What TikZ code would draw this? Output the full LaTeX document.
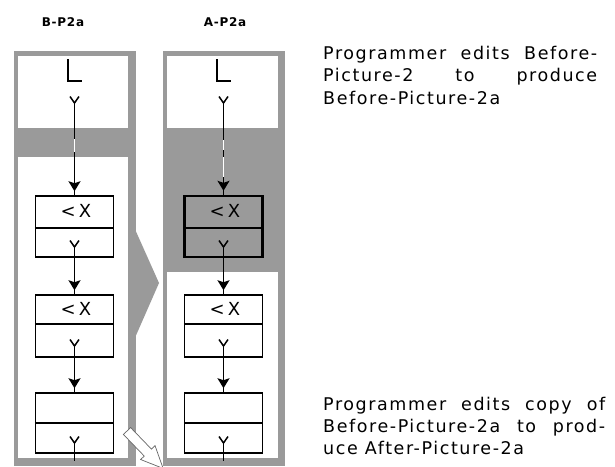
\documentclass[tikz,border=0pt]{standalone}
\usepackage{fontspec}
\setmainfont{DejaVu Sans}
\newfontfamily\bodyfont[LetterSpace=9]{DejaVu Sans}
\newfontfamily\labfont[LetterSpace=6]{DejaVu Sans}
\newfontfamily\cmpfont[LetterSpace=18]{DejaVu Sans}
\usetikzlibrary{arrows.meta,decorations.markings}
\definecolor{pg}{HTML}{9A9A9A}
\begin{document}
\begin{tikzpicture}[x=1pt,y=-1pt,
  conn/.style={line width=1.5pt, postaction={decorate},
    decoration={markings, mark=at position -4pt with {\arrow{Stealth[length=10pt,width=12pt,inset=2pt,fill=black]}}}},
  forkst/.style={line width=1.5pt},
  boxst/.style={draw, line width=1.5pt, fill=white, minimum width=78pt, inner sep=0pt},
  hotbox/.style={boxst, fill=pg, line width=2.4pt},
  cmp/.style={font=\cmpfont\fontsize{18}{18}\selectfont, inner sep=0pt},
  bodytxt/.style={font=\bodyfont\fontsize{17.5}{22}\selectfont, inner sep=0pt, anchor=base west},
  labtxt/.style={font=\labfont\bfseries\fontsize{12}{12}\selectfont, inner sep=0pt}
]
\useasboundingbox (0,0) rectangle (615,466);
\fill[white] (0,0) rectangle (615,466);

% panels
\fill[pg] (14,51) rectangle (136,466);
\fill[pg] (163,51) rectangle (285,466);
\fill[white] (18,56) rectangle (128,128);
\fill[white] (18,157) rectangle (128,458);
\fill[white] (167,56) rectangle (278,128);
\fill[white] (167,272) rectangle (278,458);
% chevron
\fill[pg] (134,227) -- (159,283) -- (134,340) -- cycle;

% labels
\node[labtxt] (lbB) at (63,22) {B-P2a};
\node[labtxt] (lbA) at (225,22) {A-P2a};

% columns
\foreach \cx/\nm in {74.5/L, 223.5/R} {
  % L symbol
  \draw[line width=1.4pt] (\cx-6.5,59) -- (\cx-6.5,81) -- (\cx+7.5,81);
  \coordinate (\nm f1) at (\cx,103);
  \coordinate (\nm f2) at (\cx,247);
  \coordinate (\nm f3) at (\cx,346);
  \coordinate (\nm f4) at (\cx,443);
  \coordinate (\nm end) at (\cx,461);
}
% boxes left
\node[boxst, minimum height=61pt] (Lb1) at (74.5,226.5) {};
\node[boxst, minimum height=62pt] (Lb2) at (74.5,326) {};
\node[boxst, minimum height=60pt] (Lb3) at (74.5,423) {};
% boxes right
\node[hotbox, minimum height=61pt] (Rb1) at (223.5,226.5) {};
\node[boxst, minimum height=62pt] (Rb2) at (223.5,326) {};
\node[boxst, minimum height=60pt] (Rb3) at (223.5,423) {};

% dividers
\draw[line width=1.5pt] (Lb1.west |- 0,228) -- (Lb1.east |- 0,228);
\draw[line width=1.5pt] (Lb2.west |- 0,324) -- (Lb2.east |- 0,324);
\draw[line width=1.5pt] (Lb3.west |- 0,423) -- (Lb3.east |- 0,423);
\draw[line width=2.4pt] (Rb1.west |- 0,228) -- (Rb1.east |- 0,228);
\draw[line width=1.5pt] (Rb2.west |- 0,324) -- (Rb2.east |- 0,324);
\draw[line width=1.5pt] (Rb3.west |- 0,423) -- (Rb3.east |- 0,423);

% texts in boxes
\node[cmp] (Lc1) at (76,211) {<X};
\node[cmp] (Lc2) at (76,309) {<X};
\node[cmp] (Rc1) at (225,211) {<X};
\node[cmp] (Rc2) at (225,309) {<X};

% forks and connectors
\foreach \nm/\cx in {L/74.5, R/223.5} {
  \draw[forkst] (\cx-4.5,96.5) -- (\nm f1) -- (\cx+4.5,96.5);
  \draw[forkst] (\cx-4.5,240.5) -- (\nm f2) -- (\cx+4.5,240.5);
  \draw[forkst] (\cx-4.5,339.5) -- (\nm f3) -- (\cx+4.5,339.5);
  \draw[forkst] (\cx-4.5,436.5) -- (\nm f4) -- (\cx+4.5,436.5);
  \draw[conn] (\nm f1) -- (\nm b1.north);
  \draw[conn] (\nm f2) -- (\nm b2.north);
  \draw[conn] (\nm f3) -- (\nm b3.north);
  \draw[line width=1.5pt] (\nm f4) -- (\nm end);
}
% white breaks on the cut connectors
\draw[white, line width=1.6pt] (74.5,139) -- (74.5,152);
\draw[white, line width=1.6pt] (223.5,140) -- (223.5,150);
\draw[white, line width=1.6pt] (223.5,157) -- (223.5,177);

% hollow arrow
\begin{scope}[shift={(127,431)}, rotate=-46]
  \draw[fill=white, draw=black!60, line width=0.7pt]
    (0,-5) -- (30,-5) -- (30,-10) -- (52,0) -- (30,10) -- (30,5) -- (0,5) -- cycle;
\end{scope}

% descriptions
\node[bodytxt] (t1a) at (323,59.5) {\makebox[274pt][s]{Programmer edits Before-}};
\node[bodytxt] (t1b) at (323,81.8) {\makebox[274pt][s]{Picture-2 to produce}};
\node[bodytxt] (t1c) at (323,104) {Before-Picture-2a};
\node[bodytxt] (t2a) at (323,410) {\makebox[282pt][s]{Programmer edits copy of}};
\node[bodytxt] (t2b) at (323,432) {\makebox[282pt][s]{Before-Picture-2a to prod-}};
\node[bodytxt] (t2c) at (323,454) {uce After-Picture-2a};
\end{tikzpicture}
\end{document}
